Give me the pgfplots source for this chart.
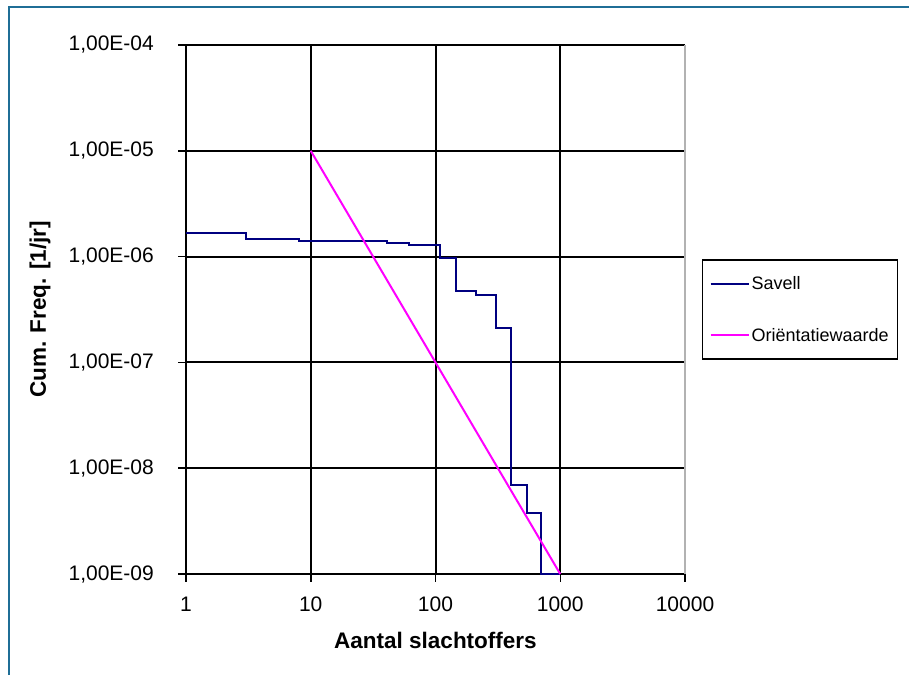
\documentclass[border=0pt]{standalone}
\usepackage{fontspec}
\setmainfont{Liberation Sans}
\usepackage{pgfplots}
\pgfplotsset{compat=1.18}
\definecolor{frameblue}{RGB}{31,110,150}
\definecolor{savell}{RGB}{0,0,128}
\definecolor{orient}{RGB}{255,0,255}
\newcommand\tickfont{\fontsize{21}{25}\selectfont}
\newcommand\labelfont{\fontsize{22.5}{27}\selectfont\bfseries}
\newcommand\legfont{\fontsize{18}{22}\selectfont}
\begin{document}
\begin{tikzpicture}[x=1pt,y=1pt]
\path[use as bounding box] (0,0) rectangle (909,675);
\draw[frameblue, line width=2.5pt] (9,0) -- (9,668) -- (909,668);
\begin{axis}[
  at={(186pt,101pt)}, anchor=south west,
  scale only axis, width=499pt, height=529pt,
  xmode=log, ymode=log,
  xmin=1, xmax=10000, ymin=1e-9, ymax=1e-4,
  xtick={1,10,100,1000,10000},
  xticklabels={1,10,100,1000,10000},
  ytick={1e-9,1e-8,1e-7,1e-6,1e-5,1e-4},
  yticklabels={{1,00E-09},{1,00E-08},{1,00E-07},{1,00E-06},{1,00E-05},{1,00E-04}},
  xminorticks=false, yminorticks=false,
  axis x line*=bottom, axis y line*=left,
  axis line style={black, line width=2pt, -},
  grid=major, major grid style={black, line width=2pt},
  tick align=outside, major tick length=8pt,
  tick style={black, line width=1.5pt},
  xticklabel style={font=\tickfont, anchor=center, inner sep=0pt, yshift=-22pt},
  yticklabel style={font=\tickfont, anchor=east, inner sep=0pt, xshift=-24pt},
  xlabel={Aantal slachtoffers},
  ylabel={Cum. Freq. [1/jr]},
  xlabel style={font=\labelfont, at={(axis description cs:0.5,-0.1248)}, anchor=center},
  ylabel style={font=\labelfont, at={(axis description cs:-0.2926,0.5)}, anchor=center},
  clip=false,
  legend style={at={(axis description cs:1,0.5)}, anchor=west, xshift=17pt,
    draw=black, line width=1.2pt, font=\legfont, row sep=33pt,
    inner xsep=7pt, inner ysep=14.5pt},
  legend cell align=left,
  legend image code/.code={\draw[#1, line width=2pt] (0pt,0pt) -- (38pt,0pt);},
]
\addplot[const plot, savell, line width=2pt] coordinates {
  (1,1.67e-6) (3,1.48e-6) (8,1.41e-6) (41,1.35e-6) (61,1.30e-6)
  (108,9.6e-7) (145,4.7e-7) (210,4.3e-7) (303,2.12e-7) (402,6.9e-9)
  (537,3.8e-9) (696,1e-9) (1000,1e-9)
};
\addlegendentry{Savell}
\addplot[orient, line width=2pt] coordinates {(10,1e-5) (1000,1e-9)};
\addlegendentry{Oriëntatiewaarde}
\draw[gray!60, line width=1.5pt] (rel axis cs:1,0) -- (rel axis cs:1,1);
\end{axis}
\end{tikzpicture}
\end{document}
